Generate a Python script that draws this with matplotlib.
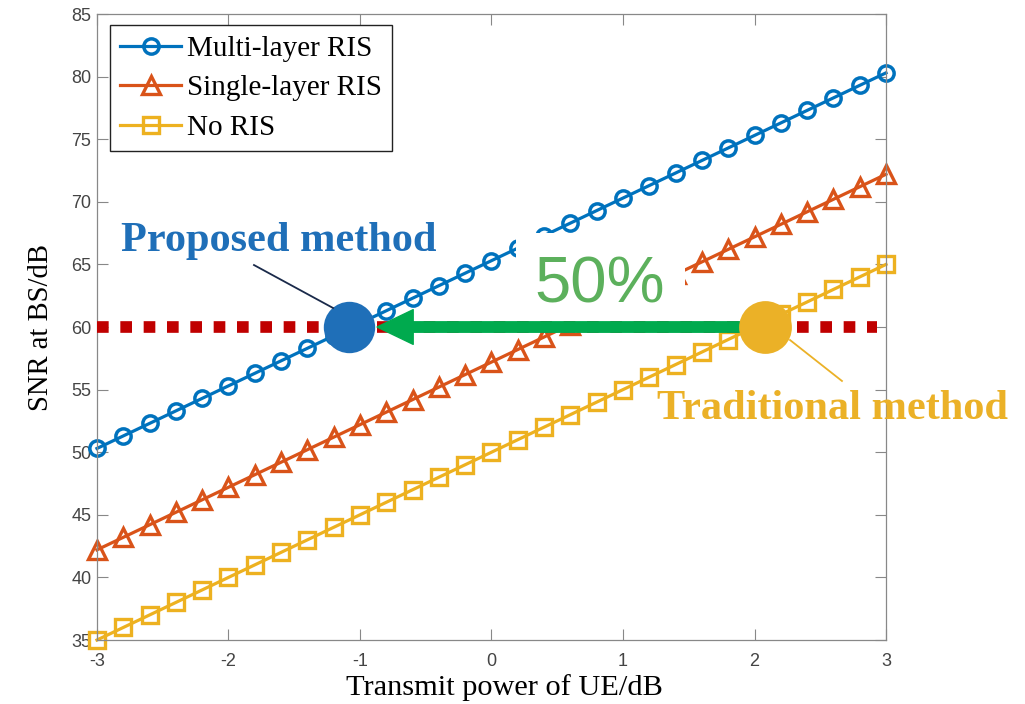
import matplotlib
matplotlib.use('Agg')
from matplotlib import pyplot as plt
from matplotlib.patches import Rectangle, FancyArrowPatch

# data
tx_power = [-3.0, -2.8, -2.6, -2.4, -2.2, -2.0, -1.8, -1.6, -1.4, -1.2, -1.0,
            -0.8, -0.6, -0.4, -0.2, 0.0, 0.2, 0.4, 0.6, 0.8, 1.0,
            1.2, 1.4, 1.6, 1.8, 2.0, 2.2, 2.4, 2.6, 2.8, 3.0]
snr_multi = [50.3, 51.3, 52.3, 53.3, 54.3, 55.3, 56.3, 57.3, 58.3, 59.3, 60.3,
             61.3, 62.3, 63.3, 64.3, 65.3, 66.3, 67.3, 68.3, 69.3, 70.3,
             71.3, 72.3, 73.3, 74.3, 75.3, 76.3, 77.3, 78.3, 79.3, 80.3]
snr_single = [42.2, 43.2, 44.2, 45.2, 46.2, 47.2, 48.2, 49.2, 50.2, 51.2, 52.2,
              53.2, 54.2, 55.2, 56.2, 57.2, 58.2, 59.2, 60.2, 61.2, 62.2,
              63.2, 64.2, 65.2, 66.2, 67.2, 68.2, 69.2, 70.2, 71.2, 72.2]
snr_none = [35, 36, 37, 38, 39, 40, 41, 42, 43, 44, 45,
            46, 47, 48, 49, 50, 51, 52, 53, 54, 55,
            56, 57, 58, 59, 60, 61, 62, 63, 64, 65]
labels = ['Multi-layer RIS', 'Single-layer RIS', 'No RIS']

target_snr = 60
proposed_x = -1.08
traditional_x = 2.08

plt.rcParams['axes.unicode_minus'] = False
serif = ['Liberation Serif', 'DejaVu Serif']
narrow = ['Liberation Sans Narrow', 'Liberation Sans', 'DejaVu Sans']

fig = plt.figure(figsize=(10.25, 7.04), dpi=100)
ax = fig.add_axes([0.0946, 0.0909, 0.7698, 0.8892])

blue = '#0072BD'
orange = '#D95319'
yellow = '#EDB120'

ax.plot(tx_power, snr_multi, '-o', color=blue, lw=2.3, ms=11, mew=2.5, mfc='none',
        label=labels[0], zorder=2, clip_on=False)
ax.plot(tx_power, snr_single, '-^', color=orange, lw=2.3, ms=13, mew=2.4, mfc='none',
        label=labels[1], zorder=2, clip_on=False)
ax.plot(tx_power, snr_none, '-s', color=yellow, lw=2.3, ms=12, mew=2.4, mfc='none',
        label=labels[2], zorder=2, clip_on=False)

# white patch behind the "50%" label
ax.add_patch(Rectangle((0.19, 59.9), 1.28, 7.6, facecolor='white', edgecolor='none', zorder=3))

# target SNR dotted line
ax.plot([-3, 2.93], [target_snr, target_snr], color='#C00000', lw=8.4,
        dashes=(1, 1), dash_capstyle='butt', zorder=4)

# arrow from traditional to proposed
arr = FancyArrowPatch((traditional_x, target_snr), (-0.87, target_snr),
                      arrowstyle='simple,head_length=26,head_width=25,tail_width=7.5',
                      mutation_scale=1, color='#00AA4E', shrinkA=0, shrinkB=0, zorder=5)
ax.add_patch(arr)

ax.plot([proposed_x], [target_snr], 'o', ms=37, color='#1F6FB8', mec='none', zorder=6)
ax.plot([traditional_x], [target_snr], 'o', ms=38, color='#EBB127', mec='none', zorder=6)

# callout lines
ax.plot([-1.806, -1.205], [64.95, 61.52], color='#1A2A4A', lw=1.3, zorder=6)
ax.plot([2.27, 2.665], [58.96, 55.69], color='#EBB127', lw=1.3, zorder=6)

ax.text(-1.62, 66.9, 'Proposed method', color='#1F6FB8', fontsize=30.5, fontweight='bold',
        family=serif, ha='center', va='center', zorder=7)
ax.text(2.59, 53.45, 'Traditional method', color='#EBB127', fontsize=30.5, fontweight='bold',
        family=serif, ha='center', va='center', zorder=7, clip_on=False)
ax.text(0.825, 63.35, '50%', color='#5CB05C', fontsize=47, family=['Liberation Sans', 'DejaVu Sans'],
        ha='center', va='center', zorder=7)

ax.set_xlim(-3, 3)
ax.set_ylim(35, 85)
ax.set_xticks([-3, -2, -1, 0, 1, 2, 3])
ax.set_yticks(range(35, 86, 5))
ax.tick_params(direction='in', top=True, right=True, length=8, width=0.8,
               colors='#888888', labelcolor='#444444', labelsize=13)
ax.tick_params(axis='x', pad=9)
ax.tick_params(axis='y', pad=4)
for lab in ax.get_xticklabels() + ax.get_yticklabels():
    lab.set_family(narrow)
for sp in ax.spines.values():
    sp.set_color('#888888')
    sp.set_linewidth(0.9)

ax.set_xlabel('Transmit power of UE/dB', family=serif, fontsize=21.9)
ax.xaxis.set_label_coords(0.517, -0.055)
ax.set_ylabel('SNR at BS/dB', family=serif, fontsize=20.6, labelpad=12)

leg = ax.legend(loc='upper left', bbox_to_anchor=(0.0165, 0.982), borderaxespad=0,
                prop={'family': serif, 'size': 21}, handlelength=2.1, handletextpad=0.18,
                labelspacing=0.45, borderpad=0.35, fancybox=False, framealpha=1,
                edgecolor='#222222')
leg.get_frame().set_linewidth(1.0)

fig.savefig('out.png', dpi=100)
